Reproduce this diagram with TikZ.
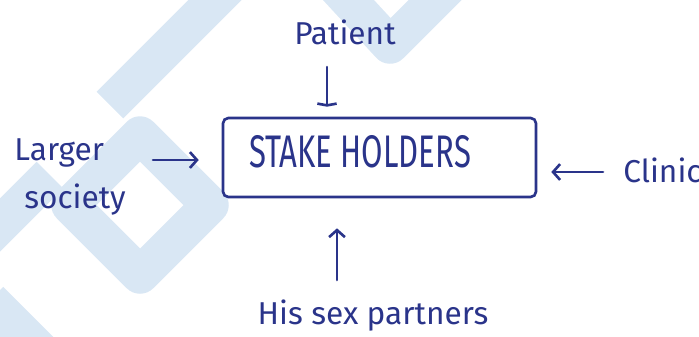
\documentclass[tikz,border=0pt]{standalone}
\usepackage{fontspec}
\setmainfont{Fira Sans}
\usepackage{tikz}
\usetikzlibrary{positioning,calc,arrows.meta}

\definecolor{ink}{RGB}{42,52,138}
\definecolor{wash}{RGB}{217,231,244}

\tikzset{
  hand/.style={text=ink, font=\fontsize{18}{27}\selectfont, inner sep=0pt},
  box/.style={draw=ink, line width=1.5pt, rounded corners=3pt,
    minimum width=6.26cm, minimum height=1.58cm},
  arr/.style={draw=ink, line width=1.5pt, line cap=round,
    -{Straight Barb[length=4pt,width=9pt]}},
  wmark/.style={draw=wash, line width=0.75cm, line join=round}
}

\begin{document}
\begin{tikzpicture}[x=0.02cm, y=-0.02cm]
    \useasboundingbox (0,0) rectangle (699,336);

    % watermark in the back
    \draw[wmark] (140,135) -- (210,205) -- (140,275) -- (70,205) -- cycle;
    \draw[wmark] (330,-20) -- (390,45) -- (460,-25);
    \draw[wmark] (235,-20) -- (110,105);
    \draw[wmark] (50,175) -- (-20,245);
    \draw[wmark] (-10,300) -- (60,370);

    % the box
    \node[box] (stake) at (379.5,157.5) {};
    \node[hand] (stakeT) at (360,152) {\scalebox{0.68}[1]{\fontsize{26}{28}\selectfont STAKE HOLDERS}};

    % who feeds in
    \node[hand] (patient) at (345,32) {Patient};
    \node[hand, align=left] (society) at (70,177) {Larger\\\hspace{0.2cm}society};
    \node[hand, anchor=west] (clinic) at (623,170) {Clinic};
    \node[hand] (partners) at (373,316) {His sex partners};

    % arrows
    \coordinate (pA) at (327,67);
    \coordinate (sA) at (153,160);
    \coordinate (cA) at (603,172);
    \coordinate (hA) at (337,280);
    \draw[arr, -{Straight Barb[length=1pt,width=11pt]}, shorten >=0.2cm] (pA) -- (pA |- stake.north);
    \draw[arr, shorten >=0.46cm] (sA) -- (sA -| stake.west);
    \draw[arr, shorten >=0.28cm] (cA) -- (cA -| stake.east);
    \draw[arr, shorten >=0.6cm] (hA) -- (hA |- stake.south);
\end{tikzpicture}
\end{document}
